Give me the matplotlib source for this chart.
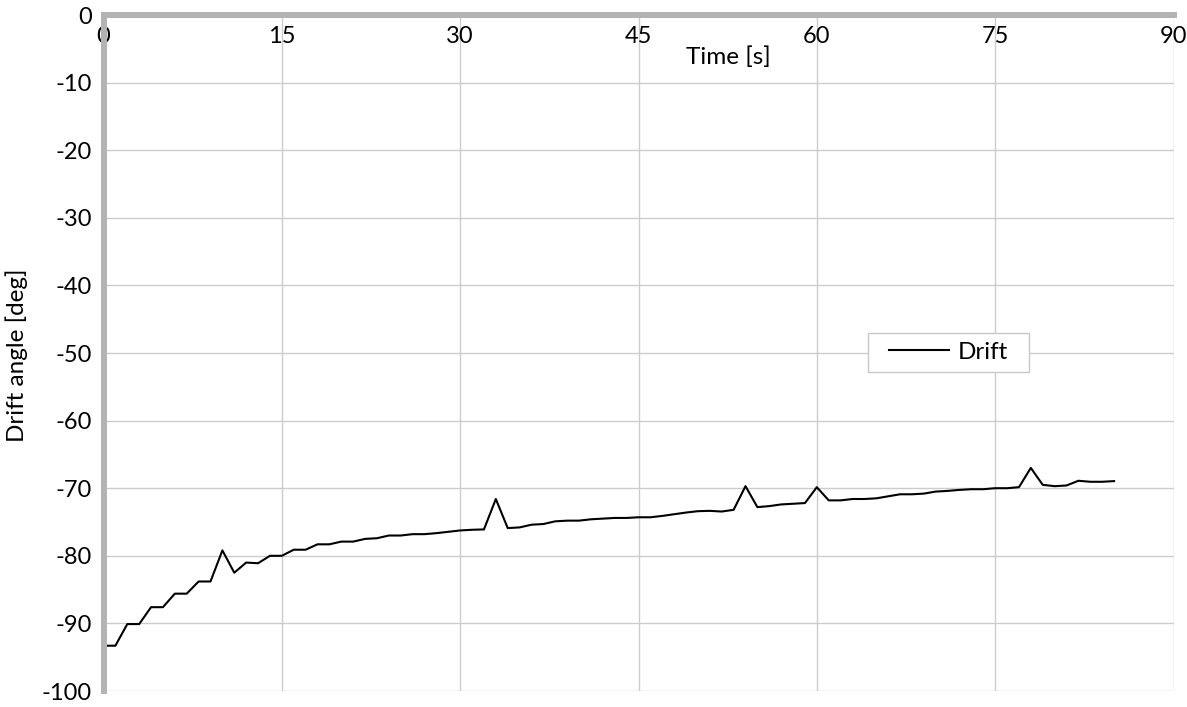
import numpy as np
import matplotlib
matplotlib.use("Agg")
import matplotlib.pyplot as plt
from matplotlib.patches import Rectangle

# data
time_s = list(range(0, 86))
drift_deg = [
    -93.3, -93.3, -90.1, -90.1, -87.6, -87.6, -85.6, -85.6, -83.8, -83.8,
    -79.2, -82.5, -81.0, -81.1, -80.0, -80.0, -79.1, -79.1, -78.3, -78.3,
    -77.9, -77.9, -77.5, -77.4, -77.0, -77.0, -76.8, -76.8, -76.65, -76.45,
    -76.25, -76.15, -76.1, -71.6, -75.9, -75.8, -75.4, -75.3, -74.9, -74.8,
    -74.8, -74.6, -74.5, -74.4, -74.4, -74.3, -74.3, -74.1, -73.85, -73.6,
    -73.4, -73.35, -73.45, -73.2, -69.7, -72.8, -72.65, -72.4, -72.3, -72.2,
    -69.85, -71.8, -71.8, -71.6, -71.6, -71.5, -71.2, -70.9, -70.9, -70.8,
    -70.5, -70.4, -70.25, -70.15, -70.15, -70.0, -70.0, -69.85, -67.0, -69.5,
    -69.7, -69.6, -68.9, -69.05, -69.05, -68.95,
]
x_ticks = [0, 15, 30, 45, 60, 75, 90]
y_ticks = [0, -10, -20, -30, -40, -50, -60, -70, -80, -90, -100]

plt.rcParams['font.family'] = ['Lato', 'DejaVu Sans']

fig = plt.figure(figsize=(11.87, 7.07), dpi=100)
ax = fig.add_axes([103.5 / 1187, 1 - 691 / 707, 1070 / 1187, 676 / 707])

ax.plot(time_s, drift_deg, color='black', lw=1.5, label='Drift', zorder=3)

ax.set_xlim(0, 90)
ax.set_ylim(-100, 0)
ax.set_xticks(x_ticks)
ax.set_yticks(y_ticks)
ax.set_yticklabels([str(v) for v in y_ticks])
ax.grid(True, color='#cccccc', lw=1)
ax.set_axisbelow(True)

for side in ['right', 'bottom']:
    ax.spines[side].set_visible(False)
for side in ['left', 'top']:
    ax.spines[side].set_color('#b3b3b3')
    ax.spines[side].set_linewidth(4.3)
    ax.spines[side].set_zorder(4)

ax.tick_params(axis='x', top=True, bottom=False, labeltop=True, labelbottom=False,
               length=0, pad=-23, labelsize=17)
ax.tick_params(axis='y', length=0, pad=8.6, labelsize=17)

ax.xaxis.set_label_position('top')
ax.set_xlabel('Time [s]', fontsize=17.5, va='center')
ax.xaxis.set_label_coords(0.584, 0.938)
ax.set_ylabel('Drift angle [deg]', fontsize=17.5, va='center')
ax.yaxis.set_label_coords(-0.081, 0.497)

# legend box
ax.add_patch(Rectangle((0.7145, 0.4719), 0.1505, 0.0577, transform=ax.transAxes,
                       facecolor='white', edgecolor='#c8c8c8', lw=1, zorder=5))
leg = ax.legend(loc='center', bbox_to_anchor=(0.7898, 0.5008), frameon=False,
                fontsize=17.5, handlelength=2.47, handletextpad=0.33, borderpad=0)
leg.set_zorder(6)

fig.savefig('out.png', dpi=100)
